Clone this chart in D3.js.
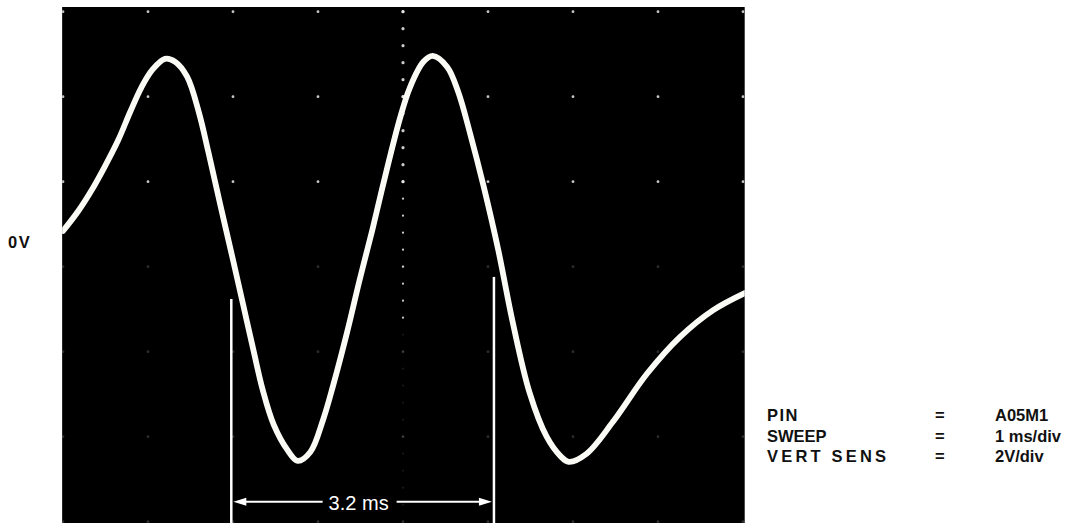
<!DOCTYPE html>
<html>
<head>
<meta charset="utf-8">
<script src="https://cdn.jsdelivr.net/npm/d3@7"></script>
<style>
  html, body { margin: 0; padding: 0; background: #fff; }
  svg { display: block; }
  .lbl { font-family: "Liberation Sans", Arial, sans-serif; font-weight: bold; font-size: 16.5px; fill: #111; }
</style>
</head>
<body>
<div id="chart"></div>
<script>
// trace: time in ms, level in volts
const timeMs = [0, 0.18, 0.34, 0.49, 0.65, 0.79, 0.92, 1.05, 1.20, 1.32, 1.46, 1.60, 1.71, 1.85, 2.00, 2.12,
  2.24, 2.35, 2.48, 2.64, 2.76, 2.91, 3.06, 3.18, 3.34, 3.49, 3.64, 3.76, 3.96, 4.08, 4.24, 4.35,
  4.52, 4.65, 4.79, 4.95, 5.12, 5.29, 5.49, 5.69, 5.85, 5.95, 6.16, 6.47, 6.87, 7.26, 7.65, 8.02];
const volts = [0.02, 0.49, 0.99, 1.53, 2.16, 2.82, 3.39, 3.81, 4.07, 4.00, 3.65, 2.80, 1.88, 0.64, -0.66, -1.72,
  -2.78, -3.72, -4.54, -5.13, -5.39, -5.18, -4.42, -3.60, -2.38, -1.13, 0.05, 1.06, 2.64, 3.39, 4.00, 4.14,
  3.88, 3.29, 2.31, 1.06, -0.42, -2.12, -3.79, -4.82, -5.27, -5.41, -5.22, -4.47, -3.34, -2.47, -1.84, -1.44];

// screen extent and graticule (1 ms/div, 2 V/div)
const screenT = [-0.01, 8.02];
const screenV = [-6.85, 5.29];
const gridCols = [0, 1, 2, 3, 4, 5, 6, 7, 8];
const gridCentreT = 4;
const gridCentreV = -0.82;
const gridRowSteps = [-3, -2, -1, 0, 1, 2, 3];
const voltsPerDiv = 2;

// 3.2 ms measurement markers
const markerT = [1.98, 5.07];
const markerTopV = [-1.58, -1.06];
const arrowV = -6.35;
const markerLabel = "3.2 ms";

const infoKeys = ["PIN", "SWEEP", "VERT SENS"];
const infoVals = ["A05M1", "1 ms/div", "2V/div"];

const W = 1081, H = 524;
const svg = d3.select("#chart").append("svg").attr("width", W).attr("height", H);

const x = d3.scaleLinear().domain([0, 8]).range([63, 743]);
const y = d3.scaleLinear().domain(screenV).range([523, 7]);

const sx0 = x(screenT[0]), sx1 = x(screenT[1]);
const sy0 = y(screenV[1]), sy1 = y(screenV[0]);

svg.append("rect")
  .attr("x", sx0).attr("y", sy0)
  .attr("width", sx1 - sx0).attr("height", sy1 - sy0)
  .attr("fill", "#000");

svg.append("clipPath").attr("id", "scr")
  .append("rect")
  .attr("x", sx0).attr("y", sy0)
  .attr("width", sx1 - sx0).attr("height", sy1 - sy0);

const screen = svg.append("g").attr("clip-path", "url(#scr)");

// graticule dots, faint in the lower half like the photo
const rowV = gridRowSteps.map(k => gridCentreV + k * voltsPerDiv);
const dots = [];
gridCols.forEach(c => rowV.forEach(v => dots.push({ t: c, v: v })));
screen.selectAll("circle.major").data(dots).enter().append("circle")
  .attr("class", "major")
  .attr("cx", d => x(d.t)).attr("cy", d => y(d.v))
  .attr("r", 1.4)
  .attr("fill", "#ddd")
  .attr("opacity", d => d.v > 0 ? 0.9 : 0.2);

// minor ticks on the centre column
const minor = d3.range(0, 30).map(i => rowV[rowV.length - 1] - i * voltsPerDiv / 5);
screen.selectAll("circle.minor").data(minor).enter().append("circle")
  .attr("class", "minor")
  .attr("cx", x(gridCentreT)).attr("cy", d => y(d))
  .attr("r", d => d > 1 ? 1.6 : 1.1)
  .attr("fill", "#eee")
  .attr("opacity", d => d > -2.4 ? 0.85 : 0.1);

// trace
const pts = timeMs.map((t, i) => [t, volts[i]]);
const line = d3.line()
  .x(d => x(d[0])).y(d => y(d[1]))
  .curve(d3.curveCatmullRom.alpha(0.5));

screen.append("path")
  .datum(pts)
  .attr("d", line)
  .attr("fill", "none")
  .attr("stroke", "#fbfbf6")
  .attr("stroke-width", 5.8)
  .attr("stroke-linecap", "round")
  .attr("stroke-linejoin", "round");

// markers
screen.selectAll("line.marker").data(markerT).enter().append("line")
  .attr("class", "marker")
  .attr("x1", d => x(d)).attr("x2", d => x(d))
  .attr("y1", (d, i) => y(markerTopV[i])).attr("y2", sy1)
  .attr("stroke", "#fff").attr("stroke-width", 2.5);

const ay = y(arrowV);
const ax0 = x(markerT[0]) + 2, ax1 = x(markerT[1]) - 2;
const tx = (ax0 + ax1) / 2 - 4;

const arrow = screen.append("g");
arrow.append("line")
  .attr("x1", ax0 + 10).attr("x2", tx - 36)
  .attr("y1", ay).attr("y2", ay)
  .attr("stroke", "#fff").attr("stroke-width", 2);
arrow.append("line")
  .attr("x1", tx + 38).attr("x2", ax1 - 10)
  .attr("y1", ay).attr("y2", ay)
  .attr("stroke", "#fff").attr("stroke-width", 2);
arrow.append("path")
  .attr("d", `M${ax0},${ay} L${ax0 + 13},${ay - 4} L${ax0 + 13},${ay + 4} Z`)
  .attr("fill", "#fff");
arrow.append("path")
  .attr("d", `M${ax1},${ay} L${ax1 - 13},${ay - 4} L${ax1 - 13},${ay + 4} Z`)
  .attr("fill", "#fff");
arrow.append("text")
  .attr("x", tx).attr("y", ay + 8)
  .attr("text-anchor", "middle")
  .attr("font-family", "Liberation Sans, Arial, sans-serif")
  .attr("font-size", 20)
  .attr("fill", "#fff")
  .text(markerLabel);

// 0V label
svg.append("text")
  .attr("class", "lbl")
  .attr("x", 8).attr("y", y(0) + 16)
  .attr("font-size", 17)
  .attr("letter-spacing", 1.5)
  .text("0V");

// info block
const info = svg.append("g");
infoKeys.forEach((k, i) => {
  const by = 421 + i * 20.5;
  const key = info.append("text").attr("class", "lbl")
    .attr("x", 767).attr("y", by)
    .text(k);
  if (k === "VERT SENS") key.attr("letter-spacing", 3.2);
  if (k === "PIN") key.attr("letter-spacing", 1.5);
  info.append("text").attr("class", "lbl")
    .attr("x", 935).attr("y", by)
    .text("=");
  info.append("text").attr("class", "lbl")
    .attr("x", 995).attr("y", by)
    .text(infoVals[i]);
});
</script>
</body>
</html>
